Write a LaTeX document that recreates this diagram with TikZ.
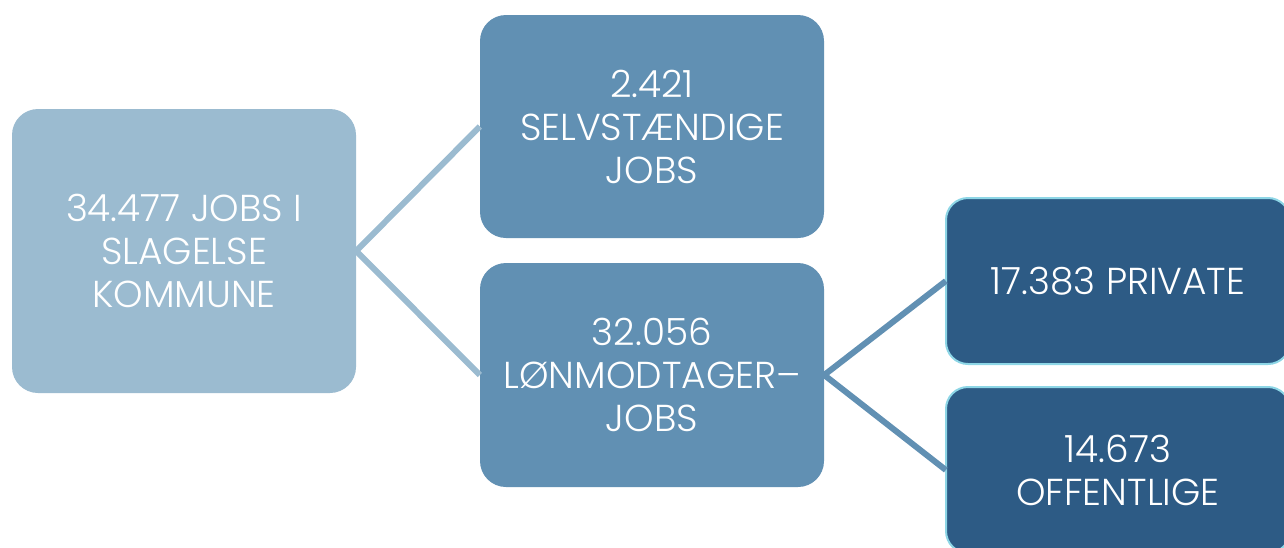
\documentclass[tikz,border=0pt]{standalone}
\usepackage{fontspec}
\setmainfont{Poppins}[UprightFont={* Light}]
\definecolor{cA}{HTML}{9BBBD0}
\definecolor{cB}{HTML}{6190B3}
\definecolor{cD}{HTML}{2D5B85}
\definecolor{cBorder}{HTML}{8DD6E6}
\begin{document}
\begin{tikzpicture}[x=1pt,y=-1pt,
  box/.style={rounded corners=26pt, text=white, align=center, inner sep=0pt,
    font=\fontsize{37.5}{43}\selectfont},
  link/.style={line width=6pt}]
\useasboundingbox (0,0) rectangle (1284,547);
\clip (0,0) rectangle (1284,547);
\fill[cA, rounded corners=26pt] (12,109) rectangle (356,393);
\node[box, minimum width=344pt, minimum height=284pt] (a) at (184,251) {34.477 JOBS I\\SLAGELSE\\KOMMUNE};
\fill[cB, rounded corners=26pt] (480,15) rectangle (824,238);
\node[box, minimum width=344pt, minimum height=223pt] (b) at (652,126.5) {2.421\\SELVSTÆNDIGE\\JOBS};
\fill[cB, rounded corners=26pt] (480,263) rectangle (824,487);
\node[box, minimum width=344pt, minimum height=224pt] (c) at (652,375) {32.056\\LØNMODTAGER–\\JOBS};
\filldraw[fill=cD, draw=cBorder, line width=2pt, rounded corners=22pt] (946,198) rectangle (1290,364);
\node[box, minimum width=344pt, minimum height=166pt] (d) at (1118,281) {17.383 PRIVATE};
\filldraw[fill=cD, draw=cBorder, line width=2pt, rounded corners=22pt] (946,387) rectangle (1290,553);
\node[box, minimum width=344pt, minimum height=166pt] (e) at (1118,470) {14.673\\OFFENTLIGE};
\draw[link, cA] (b.west) -- (a.east) -- (c.west);
\draw[link, cB] (d.west) -- (c.east) -- (e.west);
\end{tikzpicture}
\end{document}
